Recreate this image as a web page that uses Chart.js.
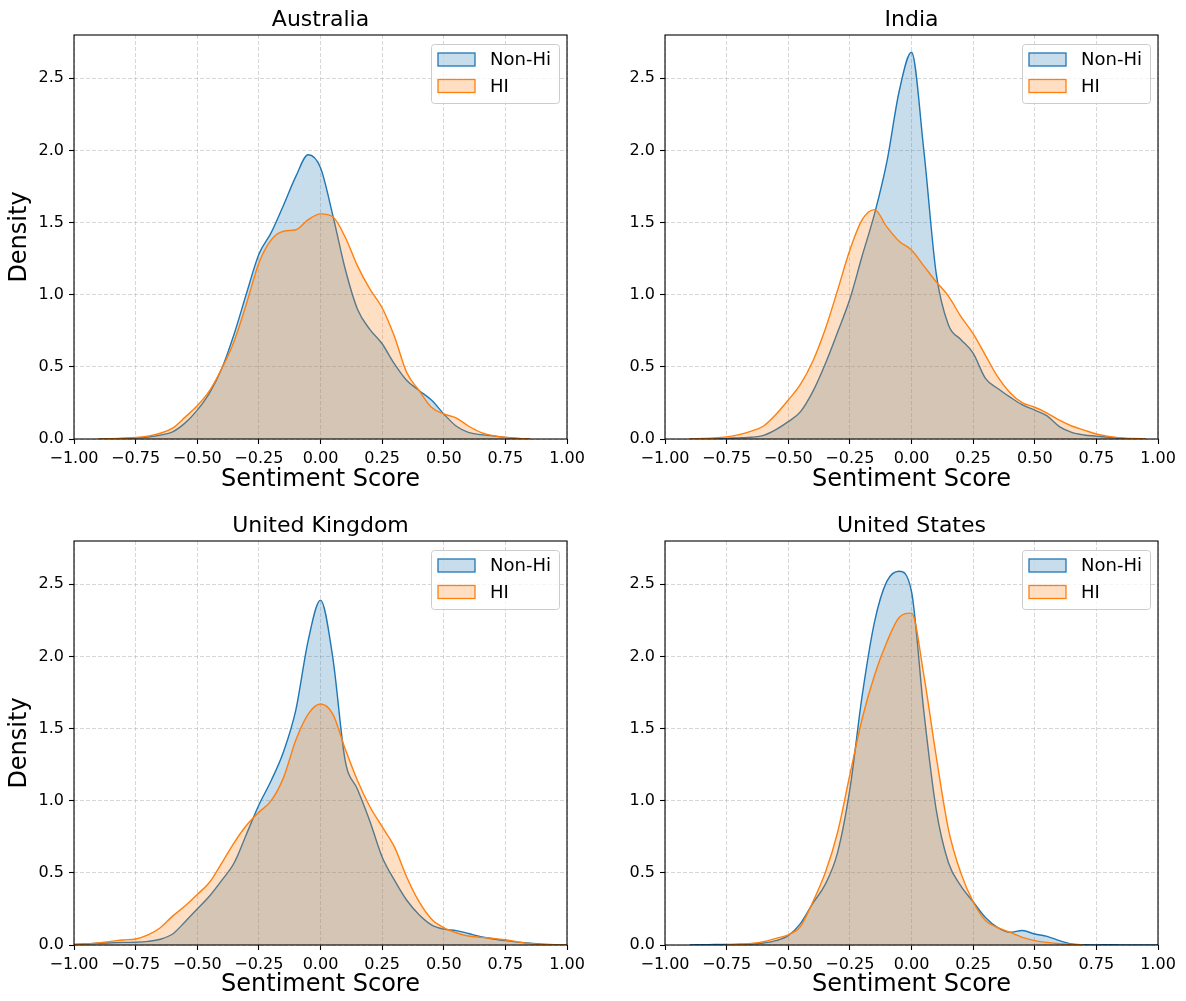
<!DOCTYPE html>
<html><head><meta charset="utf-8">
<script src="https://cdn.jsdelivr.net/npm/chart.js@4.4.0/dist/chart.umd.min.js"></script>
<style>
html,body{margin:0;padding:0;background:#fff;}
#wrap{position:relative;width:1186px;height:1001px;overflow:hidden;background:#fff;}
canvas{position:absolute;display:block;}
</style></head><body>
<div id="wrap">
<canvas id="c0" width="593" height="500" style="left:0;top:0;width:593px;height:500px"></canvas>
<canvas id="c1" width="593" height="500" style="left:593px;top:0;width:593px;height:500px"></canvas>
<canvas id="c2" width="593" height="501" style="left:0;top:500px;width:593px;height:501px"></canvas>
<canvas id="c3" width="593" height="501" style="left:593px;top:500px;width:593px;height:501px"></canvas>
</div>
<script>
// ---------- data ----------
const categories = ['Australia', 'India', 'United Kingdom', 'United States'];
const seriesNames = ['Non-Hi', 'HI'];
const xGrid = [-1.0,-0.95,-0.9,-0.85,-0.8,-0.75,-0.7,-0.65,-0.6,-0.55,-0.5,-0.45,-0.4,-0.35,-0.3,-0.25,-0.2,-0.15,-0.1,-0.05,0,0.05,0.1,0.15,0.2,0.25,0.3,0.35,0.4,0.45,0.5,0.55,0.6,0.65,0.7,0.75,0.8,0.85,0.9,0.95,1.0];
const xTicks = [-1,-0.75,-0.5,-0.25,0,0.25,0.5,0.75,1];
const xTickLabels = ['\u22121.00','\u22120.75','\u22120.50','\u22120.25','0.00','0.25','0.50','0.75','1.00'];
const yTicks = [0,0.5,1,1.5,2,2.5];
const yTickLabels = ['0.0','0.5','1.0','1.5','2.0','2.5'];

const australiaNonHi = [null,null,0,0.001,0.003,0.007,0.014,0.027,0.05,0.11,0.2,0.32,0.49,0.73,1.01,1.28,1.43,1.62,1.82,1.97,1.88,1.55,1.18,0.9,0.76,0.66,0.52,0.405,0.336,0.27,0.174,0.09,0.046,0.03,0.022,0.01,0.004,0.001,null,null,null];
const australiaHI    = [null,null,0,0.002,0.005,0.01,0.02,0.04,0.075,0.15,0.23,0.335,0.49,0.68,0.94,1.22,1.38,1.44,1.45,1.52,1.56,1.54,1.4,1.2,1.04,0.91,0.71,0.46,0.336,0.22,0.174,0.146,0.09,0.046,0.023,0.012,0.004,0.001,null,null,null];
const indiaNonHi     = [null,null,0,0.001,0.002,0.004,0.008,0.012,0.025,0.065,0.12,0.19,0.33,0.52,0.74,0.97,1.27,1.56,1.92,2.41,2.68,2.0,1.15,0.79,0.69,0.595,0.42,0.35,0.29,0.236,0.2,0.16,0.086,0.046,0.028,0.02,0.012,0.005,0.002,0,null];
const indiaHI        = [null,null,0,0.003,0.007,0.015,0.03,0.055,0.09,0.17,0.27,0.38,0.54,0.76,1.03,1.31,1.52,1.59,1.47,1.37,1.31,1.2,1.09,0.99,0.85,0.73,0.58,0.43,0.32,0.25,0.22,0.18,0.13,0.09,0.062,0.035,0.018,0.008,0.003,0.001,null];
const ukNonHi        = [0.003,0.008,0.012,0.015,0.018,0.019,0.025,0.04,0.076,0.16,0.25,0.34,0.45,0.57,0.77,0.97,1.14,1.34,1.63,2.11,2.39,1.99,1.28,1.08,0.86,0.61,0.45,0.31,0.21,0.14,0.11,0.1,0.08,0.058,0.042,0.03,0.02,0.012,0.006,0.002,0];
const ukHI           = [0.003,0.008,0.015,0.025,0.035,0.042,0.07,0.12,0.2,0.27,0.35,0.435,0.57,0.71,0.83,0.92,1.0,1.16,1.42,1.6,1.67,1.6,1.36,1.14,0.96,0.82,0.68,0.47,0.3,0.18,0.12,0.085,0.062,0.053,0.046,0.036,0.022,0.01,0.004,0.001,0];
const usNonHi        = [null,null,0.001,0.002,0.003,0.004,0.005,0.007,0.014,0.03,0.065,0.15,0.29,0.42,0.64,1.08,1.73,2.24,2.52,2.59,2.45,1.62,0.94,0.57,0.41,0.3,0.19,0.12,0.088,0.1,0.076,0.06,0.03,0.007,0.002,0.001,0.002,0.001,0.001,0.001,0.001];
const usHI           = [null,null,null,null,null,0,0.003,0.01,0.023,0.046,0.07,0.13,0.3,0.5,0.78,1.18,1.57,1.87,2.1,2.27,2.3,1.87,1.31,0.8,0.5,0.3,0.17,0.12,0.088,0.053,0.03,0.018,0.009,0.004,0,null,null,null,null,null,null];

const countrySeries = [
  [australiaNonHi, australiaHI],
  [indiaNonHi, indiaHI],
  [ukNonHi, ukHI],
  [usNonHi, usHI]
];

// ---------- styling ----------
const FONT = "'DejaVu Sans', 'Liberation Sans', sans-serif";
const lineColors = ['#1f77b4', '#ff7f0e'];
const fillColors = ['rgba(31,119,180,0.25)', 'rgba(255,127,14,0.25)'];
Chart.defaults.color = '#000';
Chart.defaults.font.family = FONT;

const framePlugin = {
  id: 'frame',
  afterDatasetsDraw(chart) {
    const {ctx, chartArea: a} = chart;
    ctx.save();
    ctx.strokeStyle = '#000';
    ctx.lineWidth = 1.1;
    ctx.strokeRect(a.left, a.top, a.right - a.left, a.bottom - a.top);
    ctx.restore();
  }
};

const legendPlugin = {
  id: 'mplLegend',
  afterDraw(chart) {
    const {ctx, chartArea: a} = chart;
    const w = 128, h = 59;
    const L = a.right - 8 - w, T = a.top + 9;
    ctx.save();
    ctx.beginPath();
    ctx.roundRect(L + 0.5, T + 0.5, w, h, 3);
    ctx.fillStyle = 'rgba(255,255,255,0.8)';
    ctx.fill();
    ctx.strokeStyle = '#cccccc';
    ctx.lineWidth = 1;
    ctx.stroke();
    chart.data.datasets.forEach((ds, i) => {
      const cy = T + 15.5 + i * 26.5;
      ctx.fillStyle = ds.backgroundColor;
      ctx.fillRect(L + 7, cy - 6.5, 37, 13);
      ctx.strokeStyle = ds.borderColor;
      ctx.lineWidth = 1.3;
      ctx.strokeRect(L + 7, cy - 6.5, 37, 13);
      ctx.fillStyle = '#000';
      ctx.font = '18px ' + FONT;
      ctx.textBaseline = 'middle';
      ctx.textAlign = 'left';
      ctx.fillText(ds.label, L + 59, cy + 1);
    });
    ctx.restore();
  }
};

function makeChart(canvasId, idx, geo) {
  const datasets = seriesNames.map((name, s) => ({
    label: name,
    data: xGrid.map((x, i) => ({x: x, y: countrySeries[idx][s][i]})),
    borderColor: lineColors[s],
    backgroundColor: fillColors[s],
    borderWidth: 1.4,
    fill: 'origin',
    pointRadius: 0,
    cubicInterpolationMode: 'monotone',
    order: s === 0 ? 2 : 1
  }));
  return new Chart(document.getElementById(canvasId), {
    type: 'line',
    data: {datasets},
    options: {
      responsive: false,
      animation: false,
      devicePixelRatio: 1,
      layout: {padding: {left: 0, right: geo.padRight, top: 0, bottom: 0}},
      plugins: {
        legend: {display: false},
        tooltip: {enabled: false},
        title: {
          display: true, text: categories[idx], color: '#000', fullSize: false,
          font: {family: FONT, size: 22, weight: 'normal'},
          padding: {top: geo.titleTop, bottom: geo.titleBottom}
        }
      },
      scales: {
        x: {
          type: 'linear', min: -1, max: 1,
          afterBuildTicks: s => { s.ticks = xTicks.map(v => ({value: v})); },
          afterFit: s => { s.height = geo.xH; },
          ticks: {
            callback: (v, i) => xTickLabels[i],
            font: {family: FONT, size: 16}, color: '#000', padding: 5,
            maxRotation: 0, autoSkip: false
          },
          grid: {color: 'rgba(176,176,176,0.5)', lineWidth: 1, tickColor: '#000', tickLength: 5, tickWidth: 1.1},
          border: {display: false, dash: [4, 2]},
          title: {
            display: true, text: 'Sentiment Score', color: '#000',
            font: {family: FONT, size: 24}, padding: {top: 0, bottom: geo.xTitleBottom}
          }
        },
        y: {
          type: 'linear', min: 0, max: 2.8,
          afterBuildTicks: s => { s.ticks = yTicks.map(v => ({value: v})); },
          afterFit: s => { s.width = geo.yW; },
          ticks: {
            callback: (v, i) => yTickLabels[i],
            font: {family: FONT, size: 16}, color: '#000', padding: 5
          },
          grid: {color: 'rgba(176,176,176,0.5)', lineWidth: 1, tickColor: '#000', tickLength: 5, tickWidth: 1.1},
          border: {display: false, dash: [4, 2]},
          title: {
            display: geo.showY, text: 'Density', color: '#000',
            font: {family: FONT, size: 24}, padding: {top: 5.6, bottom: 0}
          }
        }
      }
    },
    plugins: [framePlugin, legendPlugin]
  });
}

makeChart('c0', 0, {padRight: 26, yW: 74, xH: 61, titleTop: 7.5, titleBottom: 1.1, xTitleBottom: 5.6, showY: true});
makeChart('c1', 1, {padRight: 28, yW: 72, xH: 61, titleTop: 7.5, titleBottom: 1.1, xTitleBottom: 5.6, showY: false});
makeChart('c2', 2, {padRight: 26, yW: 74, xH: 56, titleTop: 13.5, titleBottom: 1.1, xTitleBottom: 1.6, showY: true});
makeChart('c3', 3, {padRight: 28, yW: 72, xH: 56, titleTop: 13.5, titleBottom: 1.1, xTitleBottom: 1.6, showY: false});
</script>
</body></html>
